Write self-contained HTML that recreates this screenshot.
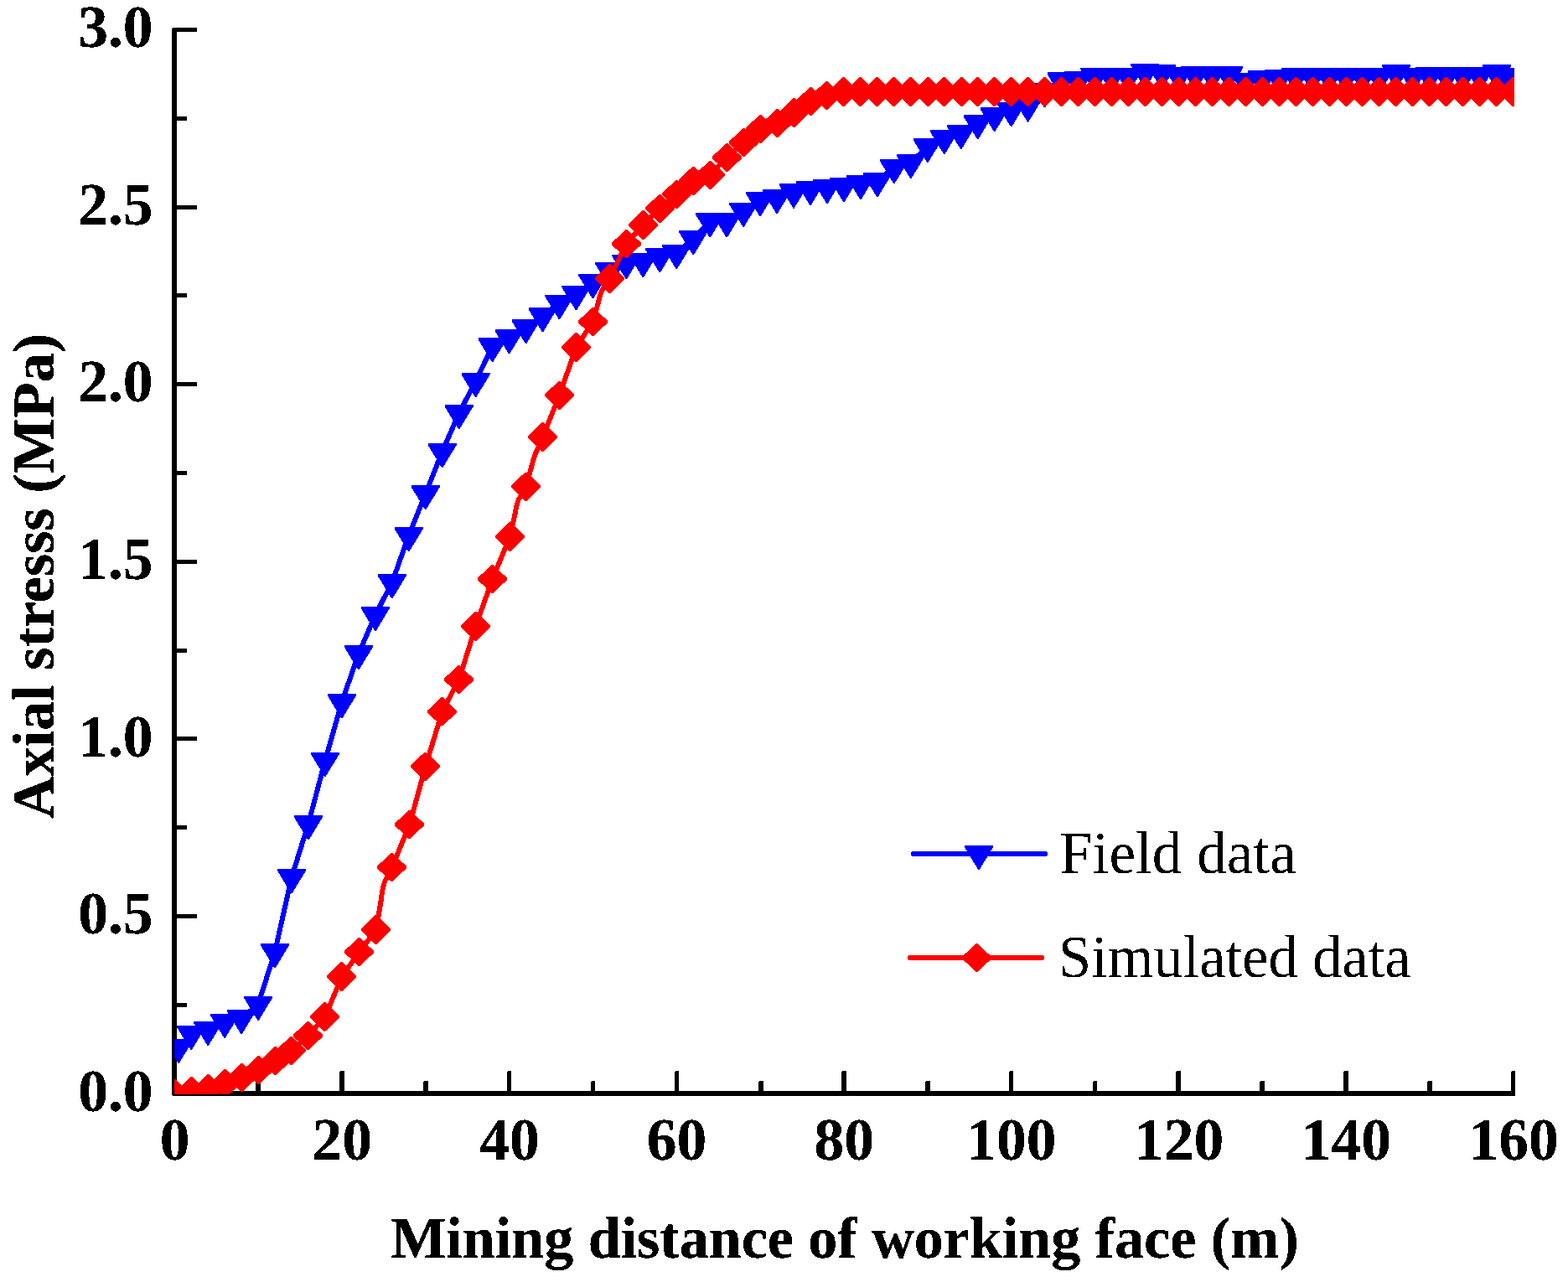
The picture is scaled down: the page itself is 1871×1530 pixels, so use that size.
<!DOCTYPE html>
<html lang="en"><head><meta charset="utf-8"><title>Axial stress vs mining distance of working face</title>
<style>
html,body{margin:0;padding:0;background:#fff;}
body{width:1871px;height:1530px;overflow:hidden;}
svg{display:block;}
text{font-family:"Liberation Serif","DejaVu Serif",serif;fill:#000;}
.b{font-weight:bold;}
</style></head><body>
<svg width="1871" height="1530" viewBox="0 0 1871 1530" role="img" aria-label="Axial stress versus mining distance of working face: field data and simulated data">
<rect width="1871" height="1530" fill="#fff"/>
<defs><clipPath id="plot"><rect x="208" y="0" width="1599" height="1305.7"/></clipPath><filter id="crisp" x="0" y="0" width="1871" height="1530" filterUnits="userSpaceOnUse" color-interpolation-filters="sRGB"><feComponentTransfer><feFuncA type="discrete" tableValues="0 1 1"/></feComponentTransfer></filter><filter id="crisp2" x="0" y="0" width="1871" height="1530" filterUnits="userSpaceOnUse" color-interpolation-filters="sRGB"><feComponentTransfer><feFuncA type="discrete" tableValues="0 1"/></feComponentTransfer></filter></defs>
<g id="axes" fill="#000" shape-rendering="crispEdges">
<path d="M206 33H211V1302H1808V1307L1807 1308H206L205 1307V34z"/>
<rect x="205" y="1302" width="30" height="5"/>
<rect x="205" y="1197" width="18" height="5"/>
<rect x="205" y="1091" width="30" height="5"/>
<rect x="205" y="985" width="18" height="5"/>
<rect x="205" y="879" width="30" height="5"/>
<rect x="205" y="774" width="18" height="5"/>
<rect x="205" y="668" width="30" height="5"/>
<rect x="205" y="562" width="18" height="5"/>
<rect x="205" y="456" width="30" height="5"/>
<rect x="205" y="350" width="18" height="5"/>
<rect x="205" y="245" width="30" height="5"/>
<rect x="205" y="139" width="18" height="5"/>
<rect x="206" y="33" width="29" height="5"/>
<path d="M305 1291L306 1290H310L311 1291V1304H305z"/>
<path d="M405 1279L406 1278H410L411 1279V1304H405z"/>
<path d="M505 1291L506 1290H510L511 1291V1304H505z"/>
<path d="M605 1279L606 1278H609L610 1279V1304H605z"/>
<path d="M705 1291L706 1290H709L710 1291V1304H705z"/>
<path d="M805 1279L806 1278H809L810 1279V1304H805z"/>
<path d="M905 1291L906 1290H910L911 1291V1304H905z"/>
<path d="M1004 1279L1005 1278H1009L1010 1279V1304H1004z"/>
<path d="M1104 1291L1105 1290H1109L1110 1291V1304H1104z"/>
<path d="M1204 1279L1205 1278H1208L1209 1279V1304H1204z"/>
<path d="M1304 1291L1305 1290H1308L1309 1291V1304H1304z"/>
<path d="M1403 1279L1404 1278H1408L1409 1279V1304H1403z"/>
<path d="M1503 1291L1504 1290H1508L1509 1291V1304H1503z"/>
<path d="M1603 1279L1604 1278H1608L1609 1279V1304H1603z"/>
<path d="M1703 1291L1704 1290H1708L1709 1291V1304H1703z"/>
<path d="M1803 1279L1804 1278H1807L1808 1279V1304H1803z"/>
</g>
<g id="data" clip-path="url(#plot)" shape-rendering="crispEdges">
<path fill="none" stroke="#0000ff" stroke-width="6" stroke-linejoin="round" stroke-linecap="round" d="M213.19 1249.7L228.17 1233.9L248.14 1228.8L268.11 1219.8L288.07 1215.1L308.04 1198.8L328.01 1136.2L347.98 1047L367.95 983.2L387.92 907.8L407.89 838.1L427.86 780.2L447.82 734.1L467.79 695.1L487.76 639.1L507.73 589.1L527.7 539.1L547.67 493.1L567.64 455L587.61 413L607.58 403.1L627.54 391L647.51 377L667.48 362L687.45 351.1L707.42 337.2L727.39 323.2L747.36 314L767.33 312L787.29 306.1L807.26 302L827.23 285.1L847.2 264.2L867.17 264.2L887.14 251.8L907.11 239.1L927.08 235.9L947.04 229.4L967.01 225.9L986.98 224L1006.95 222L1026.92 219L1046.89 216.1L1066.86 200L1086.83 194L1106.79 175L1126.76 165L1146.73 158.9L1166.7 147L1186.67 138L1206.64 132.1L1226.61 126.4L1246.58 109.2L1266.54 96.2L1286.51 95L1306.48 91.1L1326.45 91.1L1346.42 91.1L1366.39 86.1L1386.36 87L1406.33 89.8L1426.29 89L1446.26 89L1466.23 89L1486.2 96.7L1506.17 94.1L1526.14 93.1L1546.11 91.1L1566.08 91.1L1586.04 91.1L1606.01 91.1L1625.98 91.1L1645.95 91.1L1665.92 87L1685.89 91.1L1705.86 90L1725.83 90L1745.79 90L1765.76 90L1785.73 87L1795.72 91.1"/>
<path fill="#0000ff" d="M196.19 1239.7h34v2.2L213.79 1268.9h-1.2L196.19 1241.9zM211.17 1223.9h34v2.2L228.77 1253.1h-1.2L211.17 1226.1zM231.14 1218.8h34v2.2L248.74 1248h-1.2L231.14 1221zM251.11 1209.8h34v2.2L268.71 1239h-1.2L251.11 1212zM271.07 1205.1h34v2.2L288.68 1234.3h-1.2L271.07 1207.3zM291.04 1188.8h34v2.2L308.64 1218h-1.2L291.04 1191zM311.01 1126.2h34v2.2L328.61 1155.4h-1.2L311.01 1128.4zM330.98 1037h34v2.2L348.58 1066.2h-1.2L330.98 1039.2zM350.95 973.2h34v2.2L368.55 1002.4h-1.2L350.95 975.4zM370.92 897.8h34v2.2L388.52 927h-1.2L370.92 900zM390.89 828.1h34v2.2L408.49 857.3h-1.2L390.89 830.3zM410.86 770.2h34v2.2L428.46 799.4h-1.2L410.86 772.4zM430.82 724.1h34v2.2L448.43 753.3h-1.2L430.82 726.3zM450.79 685.1h34v2.2L468.39 714.3h-1.2L450.79 687.3zM470.76 629.1h34v2.2L488.36 658.3h-1.2L470.76 631.3zM490.73 579.1h34v2.2L508.33 608.3h-1.2L490.73 581.3zM510.7 529.1h34v2.2L528.3 558.3h-1.2L510.7 531.3zM530.67 483.1h34v2.2L548.27 512.3h-1.2L530.67 485.3zM550.64 445h34v2.2L568.24 474.2h-1.2L550.64 447.2zM570.61 403h34v2.2L588.21 432.2h-1.2L570.61 405.2zM590.58 393.1h34v2.2L608.18 422.3h-1.2L590.58 395.3zM610.54 381h34v2.2L628.14 410.2h-1.2L610.54 383.2zM630.51 367h34v2.2L648.11 396.2h-1.2L630.51 369.2zM650.48 352h34v2.2L668.08 381.2h-1.2L650.48 354.2zM670.45 341.1h34v2.2L688.05 370.3h-1.2L670.45 343.3zM690.42 327.2h34v2.2L708.02 356.4h-1.2L690.42 329.4zM710.39 313.2h34v2.2L727.99 342.4h-1.2L710.39 315.4zM730.36 304h34v2.2L747.96 333.2h-1.2L730.36 306.2zM750.33 302h34v2.2L767.93 331.2h-1.2L750.33 304.2zM770.29 296.1h34v2.2L787.89 325.3h-1.2L770.29 298.3zM790.26 292h34v2.2L807.86 321.2h-1.2L790.26 294.2zM810.23 275.1h34v2.2L827.83 304.3h-1.2L810.23 277.3zM830.2 254.2h34v2.2L847.8 283.4h-1.2L830.2 256.4zM850.17 254.2h34v2.2L867.77 283.4h-1.2L850.17 256.4zM870.14 241.8h34v2.2L887.74 271h-1.2L870.14 244zM890.11 229.1h34v2.2L907.71 258.3h-1.2L890.11 231.3zM910.08 225.9h34v2.2L927.68 255.1h-1.2L910.08 228.1zM930.04 219.4h34v2.2L947.64 248.6h-1.2L930.04 221.6zM950.01 215.9h34v2.2L967.61 245.1h-1.2L950.01 218.1zM969.98 214h34v2.2L987.58 243.2h-1.2L969.98 216.2zM989.95 212h34v2.2L1007.55 241.2h-1.2L989.95 214.2zM1009.92 209h34v2.2L1027.52 238.2h-1.2L1009.92 211.2zM1029.89 206.1h34v2.2L1047.49 235.3h-1.2L1029.89 208.3zM1049.86 190h34v2.2L1067.46 219.2h-1.2L1049.86 192.2zM1069.83 184h34v2.2L1087.42 213.2h-1.2L1069.83 186.2zM1089.79 165h34v2.2L1107.39 194.2h-1.2L1089.79 167.2zM1109.76 155h34v2.2L1127.36 184.2h-1.2L1109.76 157.2zM1129.73 148.9h34v2.2L1147.33 178.1h-1.2L1129.73 151.1zM1149.7 137h34v2.2L1167.3 166.2h-1.2L1149.7 139.2zM1169.67 128h34v2.2L1187.27 157.2h-1.2L1169.67 130.2zM1189.64 122.1h34v2.2L1207.24 151.3h-1.2L1189.64 124.3zM1209.61 116.4h34v2.2L1227.21 145.6h-1.2L1209.61 118.6zM1229.58 99.2h34v2.2L1247.17 128.4h-1.2L1229.58 101.4zM1249.54 86.2h34v2.2L1267.14 115.4h-1.2L1249.54 88.4zM1269.51 85h34v2.2L1287.11 114.2h-1.2L1269.51 87.2zM1289.48 81.1h34v2.2L1307.08 110.3h-1.2L1289.48 83.3zM1309.45 81.1h34v2.2L1327.05 110.3h-1.2L1309.45 83.3zM1329.42 81.1h34v2.2L1347.02 110.3h-1.2L1329.42 83.3zM1349.39 76.1h34v2.2L1366.99 105.3h-1.2L1349.39 78.3zM1369.36 77h34v2.2L1386.96 106.2h-1.2L1369.36 79.2zM1389.33 79.8h34v2.2L1406.92 109h-1.2L1389.33 82zM1409.29 79h34v2.2L1426.89 108.2h-1.2L1409.29 81.2zM1429.26 79h34v2.2L1446.86 108.2h-1.2L1429.26 81.2zM1449.23 79h34v2.2L1466.83 108.2h-1.2L1449.23 81.2zM1469.2 86.7h34v2.2L1486.8 115.9h-1.2L1469.2 88.9zM1489.17 84.1h34v2.2L1506.77 113.3h-1.2L1489.17 86.3zM1509.14 83.1h34v2.2L1526.74 112.3h-1.2L1509.14 85.3zM1529.11 81.1h34v2.2L1546.71 110.3h-1.2L1529.11 83.3zM1549.08 81.1h34v2.2L1566.67 110.3h-1.2L1549.08 83.3zM1569.04 81.1h34v2.2L1586.64 110.3h-1.2L1569.04 83.3zM1589.01 81.1h34v2.2L1606.61 110.3h-1.2L1589.01 83.3zM1608.98 81.1h34v2.2L1626.58 110.3h-1.2L1608.98 83.3zM1628.95 81.1h34v2.2L1646.55 110.3h-1.2L1628.95 83.3zM1648.92 77h34v2.2L1666.52 106.2h-1.2L1648.92 79.2zM1668.89 81.1h34v2.2L1686.49 110.3h-1.2L1668.89 83.3zM1688.86 80h34v2.2L1706.46 109.2h-1.2L1688.86 82.2zM1708.83 80h34v2.2L1726.42 109.2h-1.2L1708.83 82.2zM1728.79 80h34v2.2L1746.39 109.2h-1.2L1728.79 82.2zM1748.76 80h34v2.2L1766.36 109.2h-1.2L1748.76 82.2zM1768.73 77h34v2.2L1786.33 106.2h-1.2L1768.73 79.2zM1778.72 81.1h34v2.2L1796.32 110.3h-1.2L1778.72 83.3z"/>
<path fill="none" stroke="#ff0000" stroke-width="6" stroke-linejoin="round" stroke-linecap="round" d="M208.2 1305L228.17 1302.1L248.14 1299.1L268.11 1293.1L288.07 1286L308.04 1277L328.01 1266.1L347.98 1253.9L367.95 1236L387.92 1213.3L407.89 1165.5L428.86 1136L448.82 1109.5L454.66 1074.72Q457.63 1050.31 461.3 1048.65L467.79 1035L488.76 984L507.73 914.8L527.7 849.1L547.67 811L567.64 747.4L587.61 691L608.58 640.4L614.41 613.88Q617.38 595.75 621.05 593.02L627.54 580.8L634.03 557.66Q637.53 543.12 641.02 536.9L647.51 521.5L667.48 471.9L687.45 414.5L707.42 384L713.91 361.12Q717.4 345.49 720.9 343.1L727.39 332.5L747.36 291L767.33 268.4L787.29 248.9L807.26 231.9L827.23 215.8L847.2 208.9L867.17 188L887.14 170L907.11 153.9L927.08 147L947.04 134.5L967.01 120.9L986.98 113.9L1006.95 109.5L1026.92 109.5L1046.89 109.5L1066.86 109.5L1086.83 109.5L1107.79 109.5L1126.76 109.5L1147.73 109.5L1166.7 109.5L1186.67 109.5L1206.64 109.5L1226.61 109.5L1246.58 109.5L1266.54 109.5L1286.51 109.5L1306.48 109.5L1326.45 109.5L1346.42 109.5L1366.39 109.5L1386.36 109.5L1406.33 109.5L1426.29 109.5L1446.26 109.5L1466.23 109.5L1486.2 109.5L1506.17 109.5L1526.14 109.5L1546.11 109.5L1566.08 109.5L1586.04 109.5L1606.01 109.5L1625.98 109.5L1645.95 109.5L1665.92 109.5L1685.89 109.5L1705.86 109.5L1725.83 109.5L1745.79 109.5L1765.76 109.5L1785.73 109.5L1805.7 109.5"/>
<path fill="#ff0000" d="M190.9 1304L207.5 1287.8h2L226.1 1304v2L209.5 1322.2h-2L190.9 1306zM210.9 1301.1L227.5 1284.9h2L246.1 1301.1v2L229.5 1319.3h-2L210.9 1303.1zM230.9 1298.1L247.5 1281.9h2L266.1 1298.1v2L249.5 1316.3h-2L230.9 1300.1zM250.9 1292.1L267.5 1275.9h2L286.1 1292.1v2L269.5 1310.3h-2L250.9 1294.1zM270.9 1285L287.5 1268.8h2L306.1 1285v2L289.5 1303.2h-2L270.9 1287zM290.9 1276L307.5 1259.8h2L326.1 1276v2L309.5 1294.2h-2L290.9 1278zM310.9 1265.1L327.5 1248.9h2L346.1 1265.1v2L329.5 1283.3h-2L310.9 1267.1zM329.9 1252.9L346.5 1236.7h2L365.1 1252.9v2L348.5 1271.1h-2L329.9 1254.9zM349.9 1235L366.5 1218.8h2L385.1 1235v2L368.5 1253.2h-2L349.9 1237zM369.9 1212.3L386.5 1196.1h2L405.1 1212.3v2L388.5 1230.5h-2L369.9 1214.3zM389.9 1164.5L406.5 1148.3h2L425.1 1164.5v2L408.5 1182.7h-2L389.9 1166.5zM410.9 1135L427.5 1118.8h2L446.1 1135v2L429.5 1153.2h-2L410.9 1137zM430.9 1108.5L447.5 1092.3h2L466.1 1108.5v2L449.5 1126.7h-2L430.9 1110.5zM449.9 1034L466.5 1017.8h2L485.1 1034v2L468.5 1052.2h-2L449.9 1036zM470.9 983L487.5 966.8h2L506.1 983v2L489.5 1001.2h-2L470.9 985zM489.9 913.8L506.5 897.6h2L525.1 913.8v2L508.5 932h-2L489.9 915.8zM509.9 848.1L526.5 831.9h2L545.1 848.1v2L528.5 866.3h-2L509.9 850.1zM529.9 810L546.5 793.8h2L565.1 810v2L548.5 828.2h-2L529.9 812zM549.9 746.4L566.5 730.2h2L585.1 746.4v2L568.5 764.6h-2L549.9 748.4zM569.9 690L586.5 673.8h2L605.1 690v2L588.5 708.2h-2L569.9 692zM590.9 639.4L607.5 623.2h2L626.1 639.4v2L609.5 657.6h-2L590.9 641.4zM609.9 579.8L626.5 563.6h2L645.1 579.8v2L628.5 598h-2L609.9 581.8zM629.9 520.5L646.5 504.3h2L665.1 520.5v2L648.5 538.7h-2L629.9 522.5zM649.9 470.9L666.5 454.7h2L685.1 470.9v2L668.5 489.1h-2L649.9 472.9zM669.9 413.5L686.5 397.3h2L705.1 413.5v2L688.5 431.7h-2L669.9 415.5zM689.9 383L706.5 366.8h2L725.1 383v2L708.5 401.2h-2L689.9 385zM709.9 331.5L726.5 315.3h2L745.1 331.5v2L728.5 349.7h-2L709.9 333.5zM729.9 290L746.5 273.8h2L765.1 290v2L748.5 308.2h-2L729.9 292zM749.9 267.4L766.5 251.2h2L785.1 267.4v2L768.5 285.6h-2L749.9 269.4zM769.9 247.9L786.5 231.7h2L805.1 247.9v2L788.5 266.1h-2L769.9 249.9zM789.9 230.9L806.5 214.7h2L825.1 230.9v2L808.5 249.1h-2L789.9 232.9zM809.9 214.8L826.5 198.6h2L845.1 214.8v2L828.5 233h-2L809.9 216.8zM829.9 207.9L846.5 191.7h2L865.1 207.9v2L848.5 226.1h-2L829.9 209.9zM849.9 187L866.5 170.8h2L885.1 187v2L868.5 205.2h-2L849.9 189zM869.9 169L886.5 152.8h2L905.1 169v2L888.5 187.2h-2L869.9 171zM889.9 152.9L906.5 136.7h2L925.1 152.9v2L908.5 171.1h-2L889.9 154.9zM909.9 146L926.5 129.8h2L945.1 146v2L928.5 164.2h-2L909.9 148zM929.9 133.5L946.5 117.3h2L965.1 133.5v2L948.5 151.7h-2L929.9 135.5zM949.9 119.9L966.5 103.7h2L985.1 119.9v2L968.5 138.1h-2L949.9 121.9zM968.9 112.9L985.5 96.7h2L1004.1 112.9v2L987.5 131.1h-2L968.9 114.9zM988.9 108.5L1005.5 92.3h2L1024.1 108.5v2L1007.5 126.7h-2L988.9 110.5zM1008.9 108.5L1025.5 92.3h2L1044.1 108.5v2L1027.5 126.7h-2L1008.9 110.5zM1028.9 108.5L1045.5 92.3h2L1064.1 108.5v2L1047.5 126.7h-2L1028.9 110.5zM1048.9 108.5L1065.5 92.3h2L1084.1 108.5v2L1067.5 126.7h-2L1048.9 110.5zM1068.9 108.5L1085.5 92.3h2L1104.1 108.5v2L1087.5 126.7h-2L1068.9 110.5zM1089.9 108.5L1106.5 92.3h2L1125.1 108.5v2L1108.5 126.7h-2L1089.9 110.5zM1108.9 108.5L1125.5 92.3h2L1144.1 108.5v2L1127.5 126.7h-2L1108.9 110.5zM1129.9 108.5L1146.5 92.3h2L1165.1 108.5v2L1148.5 126.7h-2L1129.9 110.5zM1148.9 108.5L1165.5 92.3h2L1184.1 108.5v2L1167.5 126.7h-2L1148.9 110.5zM1168.9 108.5L1185.5 92.3h2L1204.1 108.5v2L1187.5 126.7h-2L1168.9 110.5zM1188.9 108.5L1205.5 92.3h2L1224.1 108.5v2L1207.5 126.7h-2L1188.9 110.5zM1208.9 108.5L1225.5 92.3h2L1244.1 108.5v2L1227.5 126.7h-2L1208.9 110.5zM1228.9 108.5L1245.5 92.3h2L1264.1 108.5v2L1247.5 126.7h-2L1228.9 110.5zM1248.9 108.5L1265.5 92.3h2L1284.1 108.5v2L1267.5 126.7h-2L1248.9 110.5zM1268.9 108.5L1285.5 92.3h2L1304.1 108.5v2L1287.5 126.7h-2L1268.9 110.5zM1288.9 108.5L1305.5 92.3h2L1324.1 108.5v2L1307.5 126.7h-2L1288.9 110.5zM1308.9 108.5L1325.5 92.3h2L1344.1 108.5v2L1327.5 126.7h-2L1308.9 110.5zM1328.9 108.5L1345.5 92.3h2L1364.1 108.5v2L1347.5 126.7h-2L1328.9 110.5zM1348.9 108.5L1365.5 92.3h2L1384.1 108.5v2L1367.5 126.7h-2L1348.9 110.5zM1368.9 108.5L1385.5 92.3h2L1404.1 108.5v2L1387.5 126.7h-2L1368.9 110.5zM1388.9 108.5L1405.5 92.3h2L1424.1 108.5v2L1407.5 126.7h-2L1388.9 110.5zM1408.9 108.5L1425.5 92.3h2L1444.1 108.5v2L1427.5 126.7h-2L1408.9 110.5zM1428.9 108.5L1445.5 92.3h2L1464.1 108.5v2L1447.5 126.7h-2L1428.9 110.5zM1448.9 108.5L1465.5 92.3h2L1484.1 108.5v2L1467.5 126.7h-2L1448.9 110.5zM1468.9 108.5L1485.5 92.3h2L1504.1 108.5v2L1487.5 126.7h-2L1468.9 110.5zM1488.9 108.5L1505.5 92.3h2L1524.1 108.5v2L1507.5 126.7h-2L1488.9 110.5zM1508.9 108.5L1525.5 92.3h2L1544.1 108.5v2L1527.5 126.7h-2L1508.9 110.5zM1528.9 108.5L1545.5 92.3h2L1564.1 108.5v2L1547.5 126.7h-2L1528.9 110.5zM1548.9 108.5L1565.5 92.3h2L1584.1 108.5v2L1567.5 126.7h-2L1548.9 110.5zM1568.9 108.5L1585.5 92.3h2L1604.1 108.5v2L1587.5 126.7h-2L1568.9 110.5zM1588.9 108.5L1605.5 92.3h2L1624.1 108.5v2L1607.5 126.7h-2L1588.9 110.5zM1607.9 108.5L1624.5 92.3h2L1643.1 108.5v2L1626.5 126.7h-2L1607.9 110.5zM1627.9 108.5L1644.5 92.3h2L1663.1 108.5v2L1646.5 126.7h-2L1627.9 110.5zM1647.9 108.5L1664.5 92.3h2L1683.1 108.5v2L1666.5 126.7h-2L1647.9 110.5zM1667.9 108.5L1684.5 92.3h2L1703.1 108.5v2L1686.5 126.7h-2L1667.9 110.5zM1687.9 108.5L1704.5 92.3h2L1723.1 108.5v2L1706.5 126.7h-2L1687.9 110.5zM1707.9 108.5L1724.5 92.3h2L1743.1 108.5v2L1726.5 126.7h-2L1707.9 110.5zM1727.9 108.5L1744.5 92.3h2L1763.1 108.5v2L1746.5 126.7h-2L1727.9 110.5zM1747.9 108.5L1764.5 92.3h2L1783.1 108.5v2L1766.5 126.7h-2L1747.9 110.5zM1767.9 108.5L1784.5 92.3h2L1803.1 108.5v2L1786.5 126.7h-2L1767.9 110.5zM1787.9 108.5L1804.5 92.3h2L1823.1 108.5v2L1806.5 126.7h-2L1787.9 110.5z"/>
</g>
<g id="legend" shape-rendering="crispEdges">
<line x1="1090" y1="1019" x2="1247" y2="1019" stroke="#0000ff" stroke-width="6" stroke-linecap="round"/>
<path fill="#0000ff" d="M1151 1009h34v2.2L1168.6 1038.2h-1.2L1151 1011.2z"/>
<line x1="1086" y1="1143" x2="1243" y2="1143" stroke="#ff0000" stroke-width="6" stroke-linecap="round"/>
<path fill="#ff0000" d="M1147.9 1142L1164.5 1125.8h2L1183.1 1142v2L1166.5 1160.2h-2L1147.9 1144z"/>
</g>
<g id="labels" filter="url(#crisp)">
<text class="b" transform="translate(182.6 1325.8) scale(1 1.01)" font-size="71.5" text-anchor="end">0.0</text>
<text class="b" transform="translate(182.6 1114.22) scale(1 1.01)" font-size="71.5" text-anchor="end">0.5</text>
<text class="b" transform="translate(182.6 902.63) scale(1 1.01)" font-size="71.5" text-anchor="end">1.0</text>
<text class="b" transform="translate(182.6 691.05) scale(1 1.01)" font-size="71.5" text-anchor="end">1.5</text>
<text class="b" transform="translate(182.6 479.47) scale(1 1.01)" font-size="71.5" text-anchor="end">2.0</text>
<text class="b" transform="translate(182.6 267.88) scale(1 1.01)" font-size="71.5" text-anchor="end">2.5</text>
<text class="b" transform="translate(182.6 56.3) scale(1 1.01)" font-size="71.5" text-anchor="end">3.0</text>
<text class="b" transform="translate(208.5 1384) scale(1 1.01)" font-size="71.5" text-anchor="middle">0</text>
<text class="b" transform="translate(408.19 1384) scale(1 1.01)" font-size="71.5" text-anchor="middle">20</text>
<text class="b" transform="translate(607.88 1384) scale(1 1.01)" font-size="71.5" text-anchor="middle">40</text>
<text class="b" transform="translate(807.56 1384) scale(1 1.01)" font-size="71.5" text-anchor="middle">60</text>
<text class="b" transform="translate(1007.25 1384) scale(1 1.01)" font-size="71.5" text-anchor="middle">80</text>
<text class="b" transform="translate(1206.94 1384) scale(1 1.01)" font-size="71.5" text-anchor="middle">100</text>
<text class="b" transform="translate(1406.62 1384) scale(1 1.01)" font-size="71.5" text-anchor="middle">120</text>
<text class="b" transform="translate(1606.31 1384) scale(1 1.01)" font-size="71.5" text-anchor="middle">140</text>
<text class="b" transform="translate(1806 1384) scale(1 1.01)" font-size="71.5" text-anchor="middle">160</text>
<text class="b" transform="translate(1008 1500.6) scale(0.9796 0.99)" font-size="71.5" text-anchor="middle">Mining distance of working face (m)</text>
<text class="b" transform="translate(64 687.4) rotate(-90) scale(0.981 0.99)" font-size="71.5" text-anchor="middle">Axial stresss (MPa)</text>
</g>
<g id="legend-labels" filter="url(#crisp2)">
<text transform="translate(1264 1042) scale(0.996 1)" font-size="71.5" text-anchor="start">Field data</text>
<text transform="translate(1263 1166) scale(0.9855 1)" font-size="71.5" text-anchor="start">Simulated data</text>
</g>
</svg>
</body></html>
